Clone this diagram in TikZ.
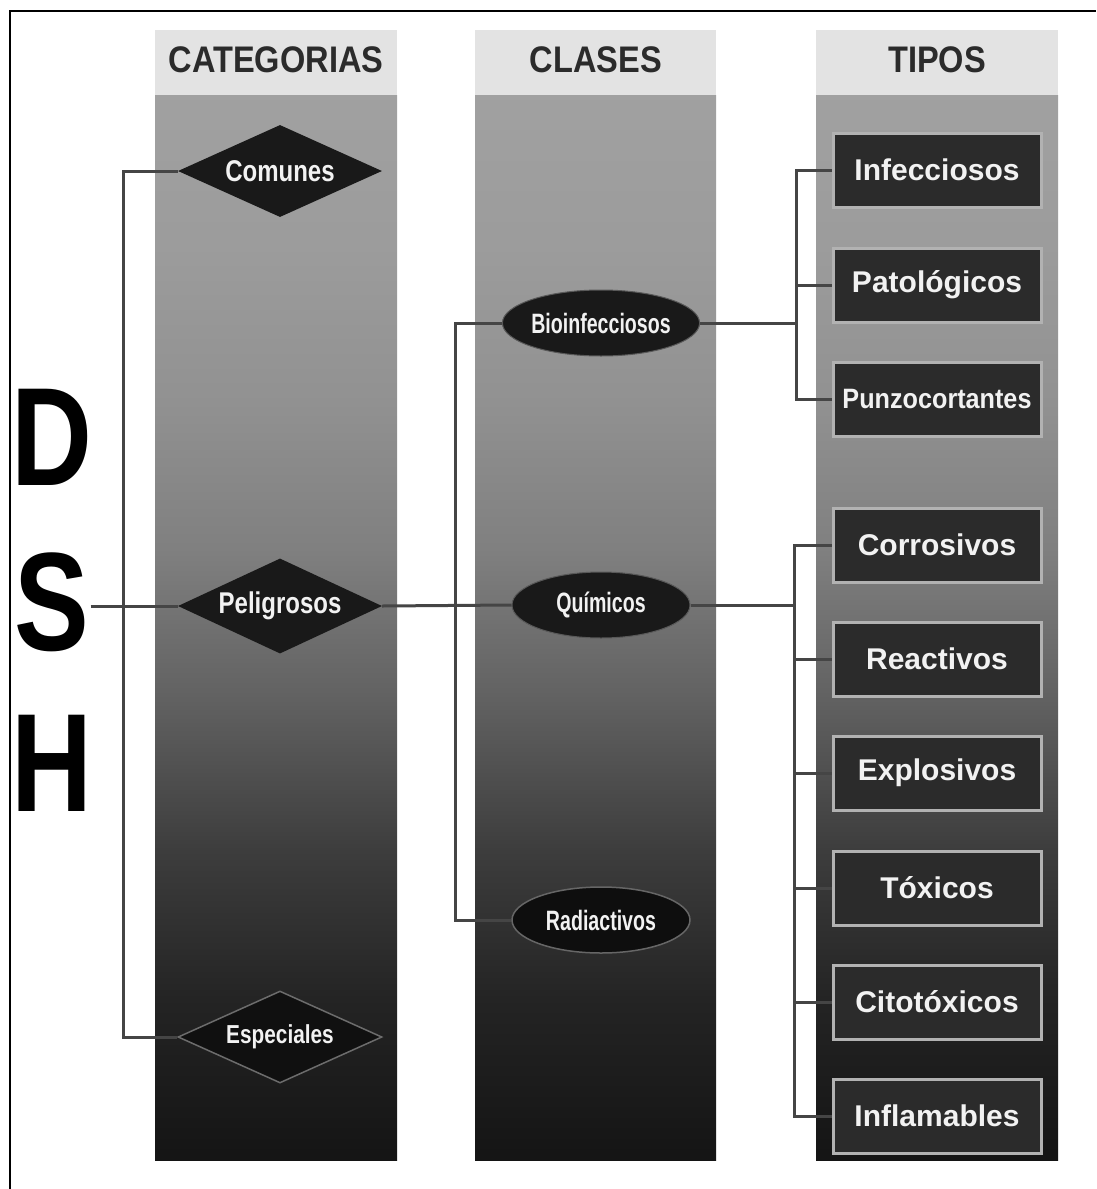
\documentclass[tikz,border=0pt]{standalone}
\usepackage{fontspec}
\setmainfont{Liberation Sans}
\newfontfamily\hdrfont[FakeStretch=0.88]{Liberation Sans}
\newfontfamily\condfont[FakeStretch=0.8]{Liberation Sans}
\newfontfamily\punzofont[FakeStretch=0.9]{Liberation Sans}
\newfontfamily\ellfont[FakeStretch=0.7]{Liberation Sans}
\newfontfamily\letterfont[FakeStretch=0.8]{Liberation Sans}
\usetikzlibrary{shapes.geometric}

% greys of the column fade, bottom to top
\definecolor{s1}{gray}{0.08}
\definecolor{s2}{gray}{0.14}
\definecolor{s3}{gray}{0.24}
\definecolor{s4}{gray}{0.38}
\definecolor{s5}{gray}{0.50}
\definecolor{s6}{gray}{0.57}
\definecolor{s7}{gray}{0.61}
\definecolor{s8}{gray}{0.63}
\definecolor{hdrbg}{gray}{0.89}
\definecolor{hdrtxt}{gray}{0.17}
\definecolor{linecol}{gray}{0.27}
\definecolor{boxfill}{gray}{0.17}
\definecolor{boxedge}{gray}{0.70}
\definecolor{shapefill}{gray}{0.10}
\definecolor{labeltxt}{gray}{0.95}

\pgfdeclareverticalshading{colfade}{100bp}{%
  color(0bp)=(s1); color(25bp)=(s1); color(32.5bp)=(s2); color(39.6bp)=(s3);
  color(46.6bp)=(s4); color(53.6bp)=(s5); color(60.7bp)=(s6); color(67.7bp)=(s7);
  color(75bp)=(s8); color(100bp)=(s8)}

\tikzset{
  colbody/.style={shading=colfade},
  hdrband/.style={fill=hdrbg},
  hdrlabel/.style={font=\hdrfont\bfseries\fontsize{37}{40}\selectfont, text=hdrtxt},
  catshape/.style={diamond, shape aspect=2.15, inner sep=0pt,
    minimum width=204pt, minimum height=92pt, fill=shapefill,
    text=labeltxt, font=\condfont\bfseries\fontsize{30}{32}\selectfont},
  catopen/.style={catshape, fill=s1!80!black, draw=gray!85!black, line width=1.5pt,
    font=\condfont\bfseries\fontsize{26}{28}\selectfont},
  classshape/.style={ellipse, inner sep=0pt, minimum width=178pt, minimum height=66pt,
    fill=shapefill, draw=gray!70!black, line width=1pt, text=labeltxt,
    font=\ellfont\bfseries\fontsize{28}{30}\selectfont},
  classopen/.style={classshape, fill=s1!70!black, draw=gray!80!black, line width=1.5pt},
  typebox/.style={rectangle, inner sep=0pt, minimum width=208pt, minimum height=74pt,
    fill=boxfill, draw=boxedge, line width=3pt, text=labeltxt,
    font=\bfseries\fontsize{30}{32}\selectfont},
  bigletter/.style={inner sep=1pt, text=black,
    font=\letterfont\bfseries\fontsize{140}{140}\selectfont},
  conn/.style={draw=linecol, line width=3pt},
  frameline/.style={draw=black, line width=2pt}
}

\begin{document}
\begin{tikzpicture}[x=1pt, y=-1pt]
\useasboundingbox (0,0) rectangle (1096,1189);
\fill[white] (0,0) rectangle (1096,1189);

% outer frame (top and left edges)
\draw[frameline] (10,1189) -- (10,11) -- (1096,11);

% three columns: header band and fading body
\fill[hdrband] (155,30) rectangle (397,95);
\fill[hdrband] (475,30) rectangle (716,95);
\fill[hdrband] (816,30) rectangle (1058,95);
\shade[colbody] (155,95) rectangle (397,1160);
\shade[colbody] (475,95) rectangle (716,1160);
\shade[colbody] (816,95) rectangle (1058,1160);

\node[hdrlabel] (hcat) at (276,60) {CATEGORIAS};
\node[hdrlabel] (hcla) at (596,60) {CLASES};
\node[hdrlabel] (htip) at (937,60) {TIPOS};

% DSH
\node[bigletter] (D) at (52,437) {D};
\node[bigletter] (S) at (52,602) {S};
\node[bigletter] (H) at (52,763) {H};

% categories
\node[catshape] (com) at (280,171) {Comunes};
\node[catshape, minimum height=95pt] (peli) at (280,606) {Peligrosos};
\node[catopen] (esp) at (280,1037) {Especiales};

% classes
\node[classshape] (bio) at (601,323) {Bioinfecciosos};
\node[classshape] (quim) at (601,605) {Químicos};
\node[classopen] (rad) at (601,920) {Radiactivos};

% types
\node[typebox] (inf) at (937,170) {Infecciosos};
\node[typebox] (pat) at (937,285) {Patológicos};
\node[typebox, font=\punzofont\bfseries\fontsize{28}{30}\selectfont] (pun) at (937,399) {Punzocortantes};
\node[typebox] (cor) at (937,545) {Corrosivos};
\node[typebox] (rea) at (937,659) {Reactivos};
\node[typebox] (exp) at (937,773) {Explosivos};
\node[typebox] (tox) at (937,888) {Tóxicos};
\node[typebox] (cit) at (937,1002) {Citotóxicos};
\node[typebox] (infl) at (937,1116) {Inflamables};

% bracket positions
\coordinate (lb) at (123,0);
\coordinate (mb) at (455,0);
\coordinate (rb) at (796,0);
\coordinate (rc) at (794,0);

% connectors
\draw[conn] (S.east |- peli.west) -- (peli.west);
\draw[conn] (com.west) -- (com.west -| lb) -- (esp.west -| lb) -- (esp.west);
\draw[conn] (peli.east) -- (quim.west);
\draw[conn] (bio.west) -- (bio.west -| mb) -- (rad.west -| mb) -- (rad.west);

\draw[conn] (bio.east) -- (bio.east -| rb);
\draw[conn] (inf.west) -- (inf.west -| rb) -- (pun.west -| rb) -- (pun.west);
\draw[conn] (pat.west) -- (pat.west -| rb);

\draw[conn] (quim.east) -- (quim.east -| rc);
\draw[conn] (cor.west) -- (cor.west -| rc) -- (infl.west -| rc) -- (infl.west);
\draw[conn] (rea.west) -- (rea.west -| rc);
\draw[conn] (exp.west) -- (exp.west -| rc);
\draw[conn] (tox.west) -- (tox.west -| rc);
\draw[conn] (cit.west) -- (cit.west -| rc);
\end{tikzpicture}
\end{document}
